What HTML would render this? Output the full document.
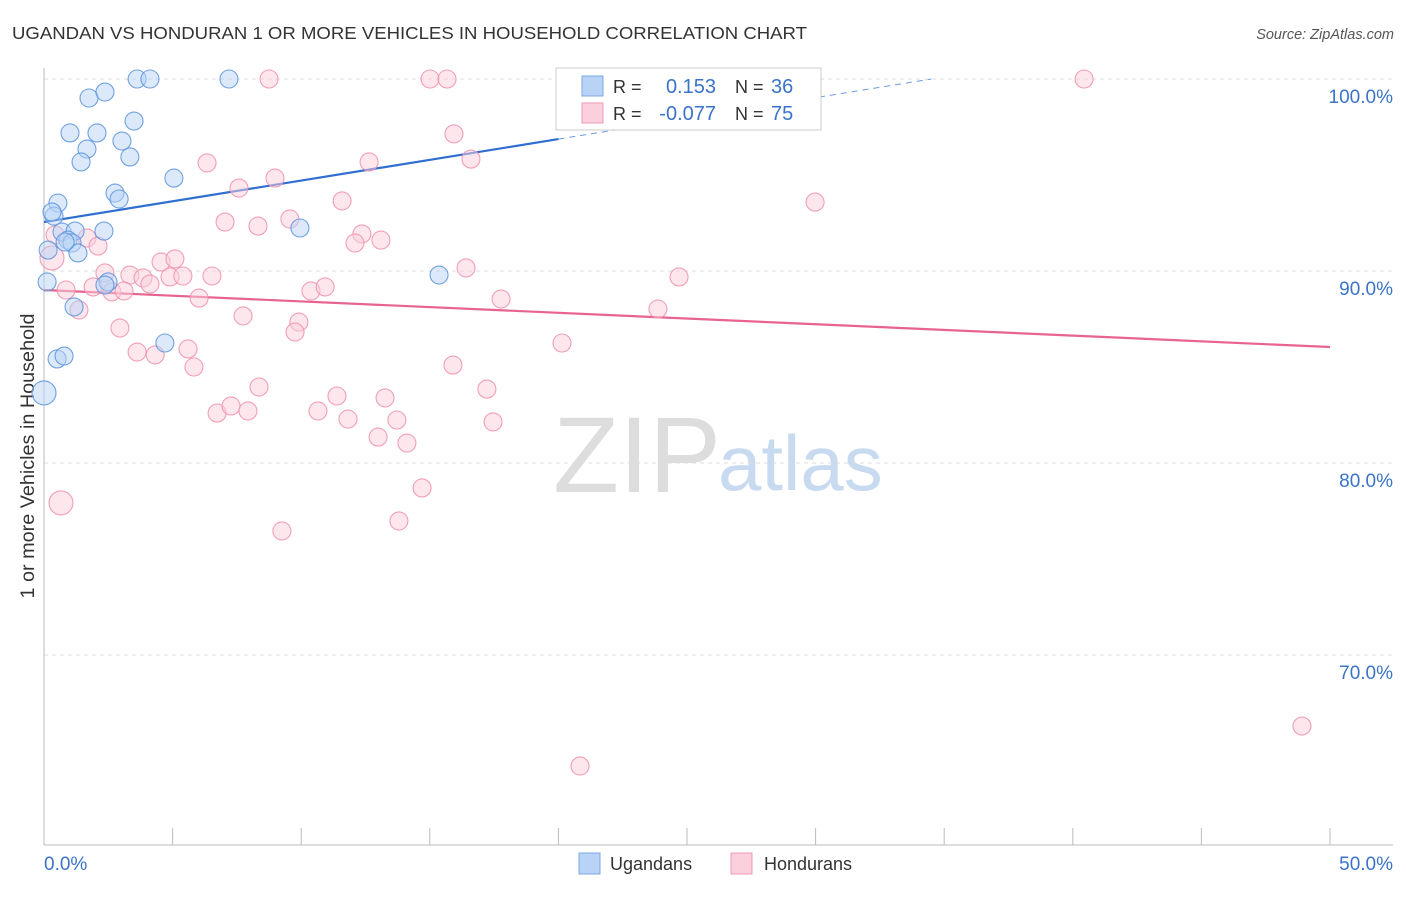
<!DOCTYPE html>
<html><head><meta charset="utf-8"><style>
body{margin:0;background:#fff;font-family:"Liberation Sans",sans-serif}
svg text{font-family:"Liberation Sans",sans-serif}
</style></head><body>
<svg id="chart" width="1406" height="892" viewBox="0 0 1406 892">
<text x="12" y="39" font-size="17.5" fill="#333" textLength="795" lengthAdjust="spacingAndGlyphs">UGANDAN VS HONDURAN 1 OR MORE VEHICLES IN HOUSEHOLD CORRELATION CHART</text>
<text x="1394" y="39" font-size="14.5" fill="#555" text-anchor="end" font-style="italic">Source: ZipAtlas.com</text>
<text x="553" y="492" font-size="108" fill="#ddd" font-family="Liberation Serif,serif">ZIP</text>
<text x="718" y="490" font-size="78" fill="#c8daf0">atlas</text>
<text transform="translate(34,456) rotate(-90)" font-size="19" fill="#333" text-anchor="middle" textLength="285" lengthAdjust="spacingAndGlyphs">1 or more Vehicles in Household</text>
<g id="grid"></g><g id="axes"></g><g id="lines"></g><g id="pts"></g>
<g>
<rect x="556" y="68" width="265" height="62" fill="#fff" stroke="#ccc"/>
<rect x="582" y="76" width="21" height="20" fill="#b8d3f5" stroke="#7aa8e6"/>
<rect x="582" y="103" width="21" height="20" fill="#fbcfdc" stroke="#f09ab5"/>
<text x="613" y="93" font-size="18" fill="#333">R =</text>
<text x="716" y="93" font-size="20" fill="#3a73c9" text-anchor="end">0.153</text>
<text x="735" y="93" font-size="18" fill="#333">N =</text>
<text x="771" y="93" font-size="20" fill="#3a73c9">36</text>
<text x="613" y="120" font-size="18" fill="#333">R =</text>
<text x="716" y="120" font-size="20" fill="#3a73c9" text-anchor="end">-0.077</text>
<text x="735" y="120" font-size="18" fill="#333">N =</text>
<text x="771" y="120" font-size="20" fill="#3a73c9">75</text>
</g>
<g>
<rect x="579" y="853" width="21" height="21" fill="#b8d3f5" stroke="#7aa8e6"/>
<text x="610" y="870" font-size="18" fill="#333">Ugandans</text>
<rect x="731" y="853" width="21" height="21" fill="#fbcfdc" stroke="#f09ab5"/>
<text x="764" y="870" font-size="18" fill="#333">Hondurans</text>
</g>
</svg>
<script>
const yTicks=[100,90,80,70];
const yTickLabels=["100.0%","90.0%","80.0%","70.0%"];
const xTicks=[0,5,10,15,20,25,30,35,40,45,50];
const xEndLabels=["0.0%","50.0%"];
const blueX=[3.62,4.12,7.19,1.75,2.37,1.01,2.06,3.50,3.03,1.67,1.44,3.34,5.05,2.76,2.92,0.54,0.39,0.31,0.70,1.21,0.93,1.09,1.32,2.33,0.82,9.95,15.36,0.12,1.17,2.49,2.37,4.70,0.51,0.78,0,0.16];
const blueY=[100,100,100,99.01,99.32,97.19,97.19,97.81,96.77,96.35,95.68,95.94,94.84,94.06,93.75,93.54,92.86,93.07,92.03,92.08,91.61,91.46,90.94,92.08,91.51,92.24,89.79,89.43,88.13,89.43,89.27,86.25,85.42,85.57,83.65,91.09];
const blueSize=[9,9,9,9,9,9,9,9,9,9,9,9,9,9,9,9,9,9,9,9,9,9,9,9,9,9,9,9,9,9,9,9,9,9,12,9];
const pinkX=[8.75,15.01,15.67,40.44,28.23,15.94,6.34,12.64,16.60,7.58,8.98,11.59,29.98,7.04,8.32,9.56,12.36,12.09,13.10,1.67,2.10,0.43,0.31,16.41,24.69,2.37,3.34,3.85,4.55,5.09,4.90,5.40,6.53,0.86,1.91,2.64,3.11,4.12,6.03,10.38,10.93,17.77,23.87,1.36,7.74,9.91,9.76,2.95,3.62,4.32,5.60,5.83,20.14,15.90,8.36,17.22,11.39,13.26,6.73,7.27,7.93,10.65,11.82,12.99,13.72,14.11,17.46,14.70,0.66,9.25,13.80,48.91,20.84];
const pinkY=[100,100,100,100,100,97.14,95.63,95.68,95.83,94.32,94.84,93.65,93.59,92.55,92.34,92.71,91.93,91.46,91.61,91.72,91.30,91.88,90.68,90.16,89.69,89.90,89.79,89.64,90.47,90.63,89.69,89.74,89.74,89.01,89.17,88.91,88.96,89.32,88.59,88.96,89.17,88.54,88.02,87.97,87.66,87.34,86.82,87.03,85.78,85.63,85.94,85.00,86.25,85.10,83.96,83.85,83.49,83.39,82.60,82.97,82.71,82.71,82.29,81.35,82.24,81.04,82.14,78.70,77.92,76.46,76.98,66.30,64.22];
const pinkSize=pinkX.map((v,i)=>(i===22||i===68)?12:9);
const blueTrend=[[0,92.55],[20,96.87]];
const blueTrendDash=[[20,96.87],[34.5,100]];
const pinkTrend=[[0,89.01],[50,86.04]];
const NS="http://www.w3.org/2000/svg";
const X=v=>44+v*25.72, Y=v=>79+(100-v)*19.2;
function mk(t,a,p){const e=document.createElementNS(NS,t);for(const k in a)e.setAttribute(k,a[k]);document.getElementById(p).appendChild(e);return e;}
yTicks.forEach((t,i)=>{
 const g=mk('line',{x1:44,x2:1393,y1:Y(t),y2:Y(t),stroke:'#ddd','stroke-dasharray':'4,4'},'grid');
 
 
 const l=mk('text',{x:1393,y:Y(t)+24,'font-size':19,fill:'#3a73c9','text-anchor':'end'},'axes');
 l.textContent=yTickLabels[i];
 
 
});
const ya=mk('line',{x1:44,x2:44,y1:68,y2:845,stroke:'#bbb'},'axes');


const xa=mk('line',{x1:44,x2:1393,y1:845,y2:845,stroke:'#bbb'},'axes');


xTicks.forEach(t=>{
 const k=mk('line',{x1:X(t),x2:X(t),y1:828,y2:845,stroke:'#bbb'},'axes');
 
 
});
const xl0=mk('text',{x:44,y:870,'font-size':19,fill:'#3a73c9'},'axes');xl0.textContent=xEndLabels[0];


const xl1=mk('text',{x:1393,y:870,'font-size':19,fill:'#3a73c9','text-anchor':'end'},'axes');xl1.textContent=xEndLabels[1];


function pts(xs,ys,sz,fill,stroke,name){xs.forEach((x,i)=>{
 const c=mk('circle',{cx:X(x),cy:Y(ys[i]),r:sz[i],fill:fill,'fill-opacity':0.5,stroke:stroke,'stroke-width':1.1,'stroke-opacity':0.85},'pts');
 
 
});}
pts(pinkX,pinkY,pinkSize,'#fbcfdc','#ee8fad','honduran-point');
pts(blueX,blueY,blueSize,'#b8d3f5','#5b93dd','ugandan-point');
function ln(p,col,dash,name){const l=mk('line',{x1:X(p[0][0]),y1:Y(p[0][1]),x2:X(p[1][0]),y2:Y(p[1][1]),stroke:col,'stroke-width':dash?1:2.2},'lines');
 if(dash)l.setAttribute('stroke-dasharray','6,5');
 
 }
ln(blueTrend,'#2f6fd0',false,'ugandan-trend-line');
ln(blueTrendDash,'#6c9ce0',true,'ugandan-trend-extension');
ln(pinkTrend,'#e8638f',false,'honduran-trend-line');
</script>
</body></html>
